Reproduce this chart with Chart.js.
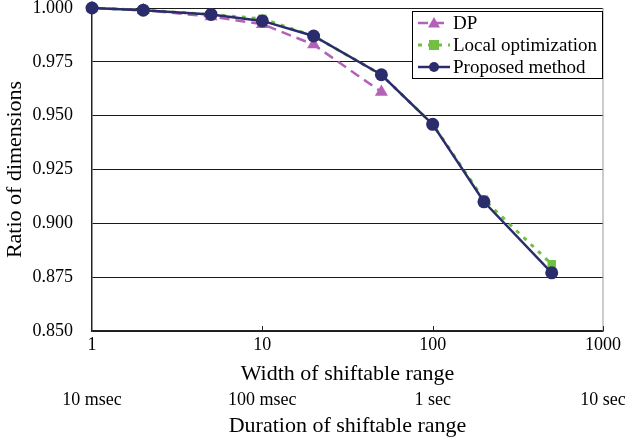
<!DOCTYPE html>
<html>
<head>
<meta charset="utf-8">
<script src="https://cdn.jsdelivr.net/npm/chart.js@4.4.7/dist/chart.umd.min.js"></script>
<style>
  html, body { margin: 0; padding: 0; background: #fff; }
  #wrap { width: 625px; height: 439px; }
</style>
</head>
<body>
<div id="wrap"><canvas id="c"></canvas></div>
<script>
// Values
const widths = [1, 2, 5, 10, 20, 50, 100, 200, 500];
const dpValues = [1.000, 0.999, 0.996, 0.9925, 0.983, 0.961];
const localValues = [1.000, 0.999, 0.997, 0.995, 0.987, 0.969, 0.946, 0.911, 0.881];
const proposedValues = [1.000, 0.999, 0.997, 0.994, 0.987, 0.969, 0.946, 0.910, 0.877];
const widthTicks = [1, 10, 100, 1000];
const durationLabels = ["10 msec", "100 msec", "1 sec", "10 sec"];
const yTicks = [0.850, 0.875, 0.900, 0.925, 0.950, 0.975, 1.000];

const FONT = "'Liberation Serif', 'Times New Roman', serif";

function toPoints(values) {
  return values.map((v, i) => ({ x: widths[i], y: v }));
}

// keep only the powers of ten on the log axes
function onlyDecades(scale) {
  scale.ticks = widthTicks.map((v) => ({ value: v, major: true }));
}

// right frame line and the small inward tick marks on the x axis
const frame = {
  id: "frame",
  beforeDatasetsDraw(chart) {
    const { ctx, chartArea } = chart;
    const x = chart.scales.x;
    ctx.save();
    ctx.strokeStyle = "#9a9a9a";
    ctx.lineWidth = 1;
    ctx.beginPath();
    ctx.moveTo(chartArea.right, chartArea.top);
    ctx.lineTo(chartArea.right, chartArea.bottom);
    ctx.stroke();
    ctx.strokeStyle = "#222";
    ctx.beginPath();
    widthTicks.slice(1).forEach((v) => {
      const px = Math.round(x.getPixelForValue(v)) + 0.5;
      ctx.moveTo(px, chartArea.bottom);
      ctx.lineTo(px, chartArea.bottom - 5);
    });
    ctx.stroke();
    ctx.restore();
  },
};

function drawMarker(ctx, style, x, y, r, color) {
  ctx.fillStyle = color;
  ctx.beginPath();
  if (style === "triangle") {
    ctx.moveTo(x, y - r);
    ctx.lineTo(x + r, y + r * 0.75);
    ctx.lineTo(x - r, y + r * 0.75);
    ctx.closePath();
  } else if (style === "rect") {
    ctx.rect(x - r, y - r, r * 2, r * 2);
  } else {
    ctx.arc(x, y, r, 0, Math.PI * 2);
  }
  ctx.fill();
}

// boxed legend in the top right corner of the plot
const boxLegend = {
  id: "boxLegend",
  afterDraw(chart) {
    const { ctx, chartArea } = chart;
    const left = Math.round(chartArea.right) - 191;
    const top = Math.round(chartArea.top) + 3;
    ctx.save();
    ctx.fillStyle = "#fff";
    ctx.fillRect(left, top, 190, 67);
    ctx.strokeStyle = "#000";
    ctx.lineWidth = 1;
    ctx.strokeRect(left + 0.5, top + 0.5, 190, 67);
    ctx.font = "19px " + FONT;
    ctx.textBaseline = "middle";
    chart.data.datasets.forEach((ds, i) => {
      const y = top + 12 + i * 22;
      ctx.strokeStyle = ds.borderColor;
      ctx.lineWidth = ds.borderWidth;
      ctx.setLineDash(ds.borderDash || []);
      ctx.beginPath();
      ctx.moveTo(left + 6, y);
      ctx.lineTo(left + 38, y);
      ctx.stroke();
      ctx.setLineDash([]);
      drawMarker(ctx, ds.pointStyle, left + 22, y, ds.legendRadius, ds.pointBackgroundColor);
      ctx.fillStyle = "#000";
      ctx.fillText(ds.label, left + 41, y + 1);
    });
    ctx.restore();
  },
};

new Chart(document.getElementById("c"), {
  type: "line",
  data: {
    datasets: [
      {
        label: "DP",
        data: toPoints(dpValues),
        borderColor: "#b462b8",
        borderWidth: 2.5,
        borderDash: [10, 6],
        pointStyle: "triangle",
        pointRadius: 7.5,
        legendRadius: 6,
        pointBackgroundColor: "#b462b8",
        pointBorderWidth: 0,
        clip: false,
        order: 3,
      },
      {
        label: "Local optimization",
        data: toPoints(localValues),
        borderColor: "#72c043",
        borderWidth: 3,
        borderDash: [4, 6],
        pointStyle: "rect",
        pointRadius: 6,
        legendRadius: 5,
        pointBackgroundColor: "#72c043",
        pointBorderWidth: 0,
        clip: false,
        order: 2,
      },
      {
        label: "Proposed method",
        data: toPoints(proposedValues),
        borderColor: "#2b2c6c",
        borderWidth: 2.5,
        pointStyle: "circle",
        pointRadius: 6.5,
        legendRadius: 5,
        pointBackgroundColor: "#2b2c6c",
        pointBorderWidth: 0,
        clip: false,
        order: 1,
      },
    ],
  },
  options: {
    responsive: true,
    maintainAspectRatio: false,
    animation: false,
    events: [],
    layout: { padding: { top: 0, right: 0, left: 2, bottom: 0 } },
    plugins: { legend: { display: false }, tooltip: { enabled: false } },
    scales: {
      x: {
        type: "logarithmic",
        position: "bottom",
        min: 1,
        max: 1000,
        afterBuildTicks: onlyDecades,
        afterFit: (scale) => { scale.paddingRight = 20; },
        grid: { display: false, drawTicks: false },
        border: { color: "#222", width: 1.5 },
        ticks: {
          color: "#000",
          font: { family: FONT, size: 18 },
          padding: 3,
          maxRotation: 0,
          callback: (v) => String(v),
        },
        title: {
          display: true,
          text: "Width of shiftable range",
          color: "#000",
          font: { family: FONT, size: 22 },
          padding: { top: 2, bottom: 0 },
        },
      },
      x2: {
        type: "logarithmic",
        position: "bottom",
        min: 1,
        max: 1000,
        afterBuildTicks: onlyDecades,
        afterFit: (scale) => { scale.paddingRight = 22; },
        grid: { display: false, drawTicks: false },
        border: { display: false },
        ticks: {
          color: "#000",
          font: { family: FONT, size: 18 },
          padding: 2,
          maxRotation: 0,
          callback: (v) => durationLabels[widthTicks.indexOf(v)],
        },
        title: {
          display: true,
          text: "Duration of shiftable range",
          color: "#000",
          font: { family: FONT, size: 22 },
          padding: { top: 0, bottom: 0 },
        },
      },
      y: {
        min: 0.85,
        max: 1.0,
        afterBuildTicks: (scale) => {
          scale.ticks = yTicks.map((v) => ({ value: v }));
        },
        afterFit: (scale) => {
          scale.width = 90;
          scale.paddingTop = 8;
          scale.paddingBottom = 8;
        },
        grid: { color: "#1a1a1a", lineWidth: 1, drawTicks: false },
        border: { color: "#222", width: 1.5 },
        ticks: {
          color: "#000",
          font: { family: FONT, size: 18 },
          padding: 19,
          callback: (v) => v.toFixed(3),
        },
        title: {
          display: true,
          text: "Ratio of dimensions",
          color: "#000",
          font: { family: FONT, size: 22 },
          padding: { top: 0, bottom: 4 },
        },
      },
    },
  },
  plugins: [frame, boxLegend],
});
</script>
</body>
</html>
